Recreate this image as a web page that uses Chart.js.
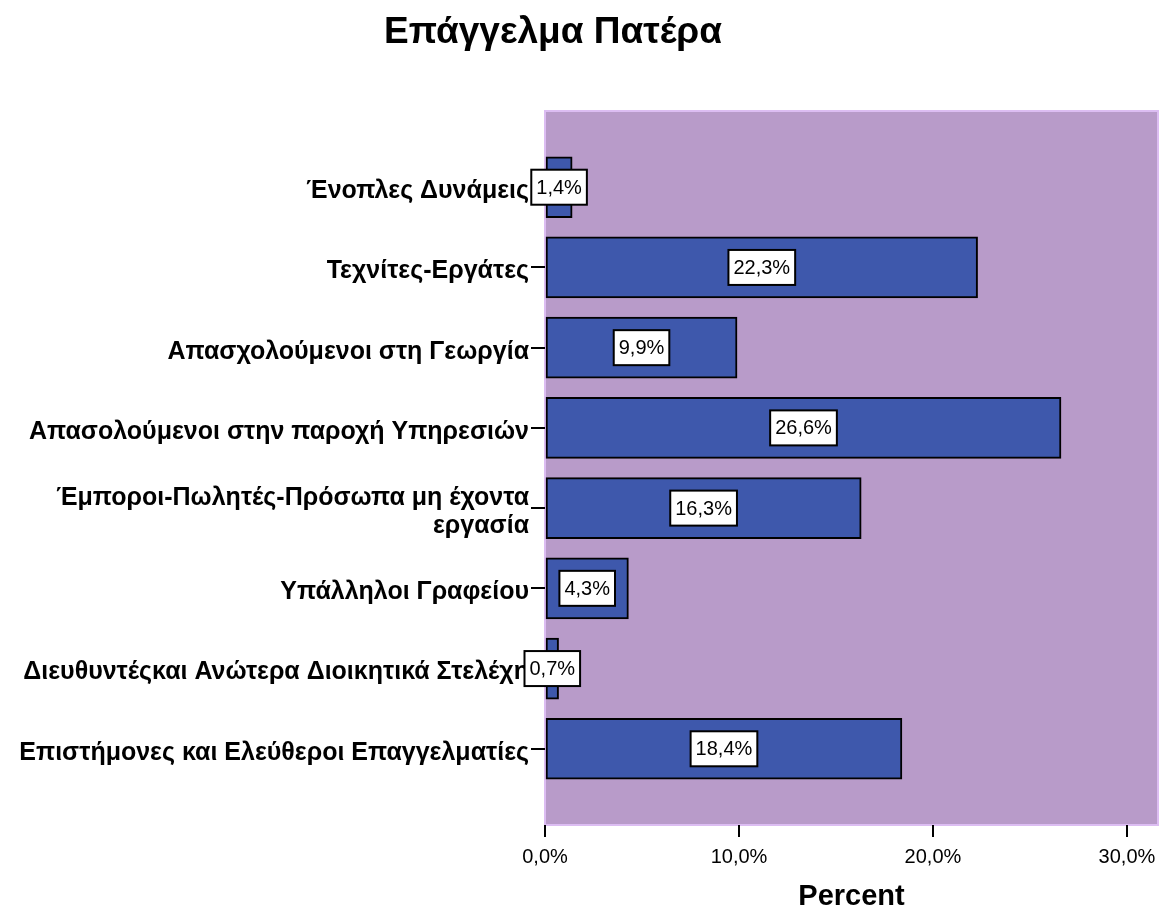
<!DOCTYPE html>
<html>
<head>
<meta charset="utf-8">
<script src="https://cdn.jsdelivr.net/npm/chart.js@4.4.0/dist/chart.umd.min.js"></script>
<style>
  body { margin: 0; background: #fff; }
  #wrap { width: 1173px; height: 914px; }
</style>
</head>
<body>
<div id="wrap"><canvas id="chart" width="1173" height="914"></canvas></div>
<script>
const title_text = "Επάγγελμα Πατέρα";
const axis_title = "Percent";
const categories = [
    "Ένοπλες Δυνάμεις",
    "Τεχνίτες-Εργάτες",
    "Απασχολούμενοι στη Γεωργία",
    "Απασολούμενοι στην παροχή Υπηρεσιών",
    ["Έμποροι-Πωλητές-Πρόσωπα μη έχοντα", "εργασία"],
    "Υπάλληλοι Γραφείου",
    "Διευθυντέςκαι Ανώτερα Διοικητικά Στελέχη",
    "Επιστήμονες και Ελεύθεροι Επαγγελματίες"
];
const percents = [1.4, 22.3, 9.9, 26.6, 16.3, 4.3, 0.7, 18.4];
const x_ticks = [0, 10, 20, 30];

const FONT = "'Liberation Sans', Arial, sans-serif";

function fmt(v) {
    return v.toFixed(1).replace(".", ",") + "%";
}

// purple plot background + light border, title
const plot_bg = {
    id: "plot_bg",
    beforeDraw: function(chart) {
        const a = chart.chartArea, ctx = chart.ctx;
        ctx.save();
        ctx.fillStyle = "#B89BC9";
        ctx.fillRect(a.left, a.top, a.right - a.left, a.bottom - a.top);
        ctx.strokeStyle = "#DCBDF2";
        ctx.lineWidth = 2;
        ctx.strokeRect(a.left, a.top, a.right - a.left, a.bottom - a.top);
        ctx.restore();
    },
    afterDraw: function(chart) {
        const ctx = chart.ctx;
        ctx.save();
        ctx.fillStyle = "#000";
        ctx.font = "bold 37px " + FONT;
        ctx.textAlign = "center";
        ctx.textBaseline = "middle";
        ctx.fillText(title_text, 553, 33);
        ctx.restore();
    }
};

// value boxes in the middle of each bar
const value_boxes = {
    id: "value_boxes",
    afterDatasetsDraw: function(chart) {
        const ctx = chart.ctx;
        const meta = chart.getDatasetMeta(0);
        ctx.save();
        ctx.font = "20px " + FONT;
        ctx.textAlign = "center";
        ctx.textBaseline = "middle";
        meta.data.forEach(function(bar, i) {
            const txt = fmt(percents[i]);
            const cx = (bar.base + bar.x) / 2;
            const cy = bar.y;
            const w = ctx.measureText(txt).width + 10;
            const h = 35;
            ctx.fillStyle = "#fff";
            ctx.fillRect(cx - w / 2, cy - h / 2, w, h);
            ctx.strokeStyle = "#000";
            ctx.lineWidth = 2;
            ctx.strokeRect(cx - w / 2, cy - h / 2, w, h);
            ctx.fillStyle = "#000";
            ctx.fillText(txt, cx, cy + 1);
        });
        ctx.restore();
    }
};

const chart = new Chart(document.getElementById("chart"), {
    type: "bar",
    data: {
        datasets: [{
            data: percents.map((v, i) => ({ x: v, y: i })),
            backgroundColor: "#3E58AC",
            borderColor: "#000",
            borderWidth: 2,
            borderSkipped: false,
            barThickness: 61
        }]
    },
    options: {
        indexAxis: "y",
        responsive: false,
        animation: false,
        devicePixelRatio: 1,
        layout: { padding: { top: 111, right: 15, left: 0, bottom: 0 } },
        plugins: {
            legend: { display: false },
            title: { display: false },
            tooltip: { enabled: false }
        },
        scales: {
            x: {
                type: "linear",
                min: 0,
                max: 31.6,
                afterBuildTicks: function(scale) {
                    scale.ticks = x_ticks.map(v => ({ value: v }));
                },
                afterFit: function(scale) { scale.height = 89; },
                ticks: {
                    color: "#000",
                    font: { family: FONT, size: 20 },
                    padding: 8,
                    callback: v => fmt(v)
                },
                grid: {
                    drawOnChartArea: false,
                    drawTicks: true,
                    tickLength: 12,
                    tickColor: "#000",
                    lineWidth: 2
                },
                border: { display: false },
                title: {
                    display: true,
                    text: axis_title,
                    color: "#000",
                    font: { family: FONT, size: 29, weight: "bold" },
                    padding: { top: 8, bottom: 0 }
                }
            },
            y: {
                type: "linear",
                reverse: true,
                offset: false,
                min: -0.95,
                max: 7.95,
                afterBuildTicks: function(scale) {
                    scale.ticks = categories.map((c, i) => ({ value: i }));
                },
                afterFit: function(scale) { scale.width = 545; },
                ticks: {
                    color: "#000",
                    font: { family: FONT, size: 25, weight: "bold", lineHeight: 1.15 },
                    padding: 2,
                    labelOffset: 4,
                    autoSkip: false,
                    callback: v => categories[v]
                },
                grid: {
                    offset: false,
                    drawOnChartArea: false,
                    drawTicks: true,
                    tickLength: 14,
                    tickColor: "#000",
                    lineWidth: 2
                },
                border: { display: false }
            }
        }
    },
    plugins: [plot_bg, value_boxes]
});
</script>
</body>
</html>
